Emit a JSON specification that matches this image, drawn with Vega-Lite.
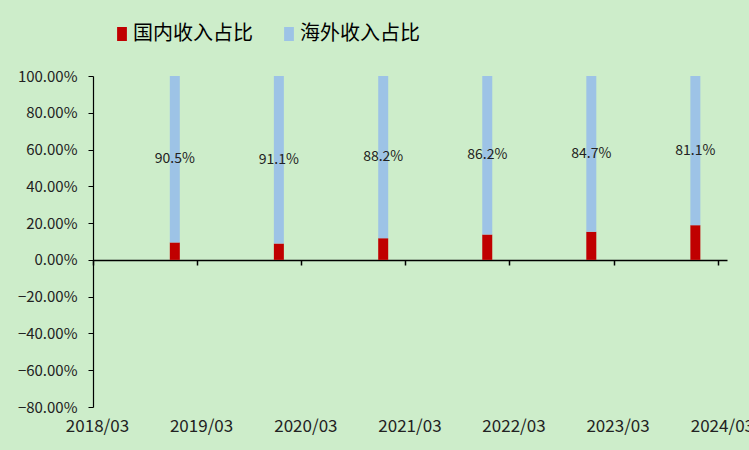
{
  "$schema": "https://vega.github.io/schema/vega-lite/v6.json",
  "width": 634,
  "height": 331,
  "autosize": {"type": "none"},
  "padding": {"left": 93, "top": 76, "right": 22, "bottom": 43},
  "background": "#cdedca",
  "config": {"view": {"stroke": null}, "font": "Noto Sans CJK SC", "axis": {"grid": false}},
  "data": {"values": [
    {"date": "2018-12-31", "type": "国内收入占比", "share": 0.095},
    {"date": "2018-12-31", "type": "海外收入占比", "share": 0.905},
    {"date": "2019-12-31", "type": "国内收入占比", "share": 0.089},
    {"date": "2019-12-31", "type": "海外收入占比", "share": 0.911},
    {"date": "2020-12-31", "type": "国内收入占比", "share": 0.118},
    {"date": "2020-12-31", "type": "海外收入占比", "share": 0.882},
    {"date": "2021-12-31", "type": "国内收入占比", "share": 0.138},
    {"date": "2021-12-31", "type": "海外收入占比", "share": 0.862},
    {"date": "2022-12-31", "type": "国内收入占比", "share": 0.153},
    {"date": "2022-12-31", "type": "海外收入占比", "share": 0.847},
    {"date": "2023-12-31", "type": "国内收入占比", "share": 0.189},
    {"date": "2023-12-31", "type": "海外收入占比", "share": 0.811}
  ]},
  "layer": [
    {
      "mark": {"type": "bar", "width": 10},
      "encoding": {
        "x": {
          "field": "date", "type": "temporal",
          "scale": {"type": "utc", "nice": false, "padding": 0, "domain": [{"year": 2018, "month": 3, "date": 19, "utc": true}, {"year": 2024, "month": 4, "date": 20, "utc": true}]},
          "axis": {
            "orient": "bottom", "offset": -147, "title": null, "labels": false,
            "values": [
              {"year": 2018, "month": 3, "date": 19, "utc": true},
              {"year": 2019, "month": 3, "date": 19, "utc": true},
              {"year": 2020, "month": 3, "date": 19, "utc": true},
              {"year": 2021, "month": 3, "date": 19, "utc": true},
              {"year": 2022, "month": 3, "date": 19, "utc": true},
              {"year": 2023, "month": 3, "date": 19, "utc": true},
              {"year": 2024, "month": 3, "date": 19, "utc": true}
            ],
            "tickSize": 5, "tickWidth": 1.5, "tickColor": "#000", "domainColor": "#000", "domainWidth": 1.5, "grid": false
          }
        },
        "y": {
          "field": "share", "type": "quantitative", "stack": "zero",
          "scale": {"domain": [-0.8, 1], "nice": false},
          "axis": {
            "title": null, "values": [-0.8, -0.6, -0.4, -0.2, 0, 0.2, 0.4, 0.6, 0.8, 1],
            "format": ".2%", "tickSize": 5, "tickColor": "#000", "domainColor": "#000", "domainWidth": 1.2,
            "labelPadding": 11, "labelFontSize": 15, "labelColor": "#222", "labelFlush": false, "grid": false
          }
        },
        "color": {
          "field": "type", "type": "nominal",
          "scale": {"domain": ["国内收入占比", "海外收入占比"], "range": ["#c00000", "#9dc3e6"]},
          "legend": {
            "orient": "none", "legendX": 19, "legendY": -52, "direction": "horizontal", "title": null,
            "labelFontSize": 20, "labelColor": "#000", "symbolType": "M-0.7,-1h1.4v2h-1.4z", "symbolSize": 196,
            "symbolStrokeWidth": 0, "labelOffset": 1, "columnPadding": 26, "padding": 0
          }
        },
        "order": {"field": "type", "sort": "ascending"}
      }
    },
    {
      "transform": [
        {"filter": "datum.type === '海外收入占比'"},
        {"calculate": "1 - datum.share / 2", "as": "mid"}
      ],
      "mark": {"type": "text", "fontSize": 14, "color": "#222", "baseline": "middle"},
      "encoding": {
        "x": {
          "field": "date", "type": "temporal",
          "scale": {"type": "utc", "nice": false, "padding": 0, "domain": [{"year": 2018, "month": 3, "date": 19, "utc": true}, {"year": 2024, "month": 4, "date": 20, "utc": true}]},
          "axis": {
            "orient": "top", "offset": -359, "title": null, "domain": false, "ticks": false, "tickSize": 0,
            "labelPadding": 0, "labelExpr": "utcFormat(datum.value, '%Y/%m')", "labelFontSize": 17, "labelColor": "#222",
            "labelOffset": 4, "labelFlush": false, "labelOverlap": false, "labelBound": false, "grid": false,
            "values": [
              {"year": 2018, "month": 3, "date": 19, "utc": true},
              {"year": 2019, "month": 3, "date": 19, "utc": true},
              {"year": 2020, "month": 3, "date": 19, "utc": true},
              {"year": 2021, "month": 3, "date": 19, "utc": true},
              {"year": 2022, "month": 3, "date": 19, "utc": true},
              {"year": 2023, "month": 3, "date": 19, "utc": true},
              {"year": 2024, "month": 3, "date": 19, "utc": true}
            ]
          }
        },
        "y": {"field": "mid", "type": "quantitative", "axis": null},
        "text": {"field": "share", "type": "quantitative", "format": ".1%"}
      }
    }
  ],
  "resolve": {"axis": {"x": "independent", "y": "independent"}}
}
